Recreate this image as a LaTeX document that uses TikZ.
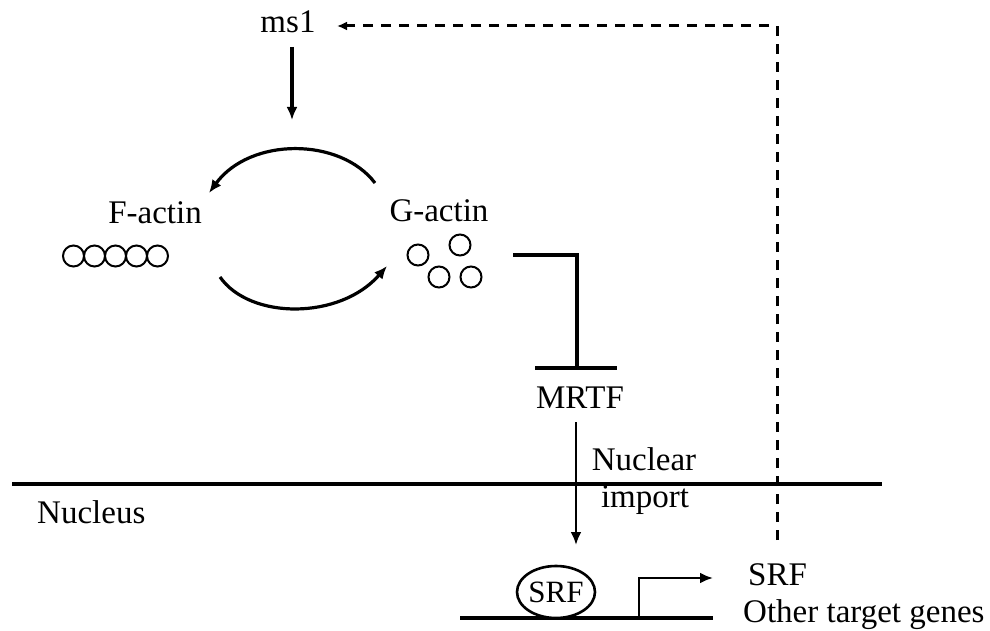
\documentclass[tikz,border=0pt]{standalone}
\usepackage{fontspec}
\setmainfont{Liberation Serif}
\usetikzlibrary{arrows.meta,shapes.geometric}
\begin{document}
\begin{tikzpicture}[x=1pt,y=-1pt,
  lbl/.style={font=\fontsize{33}{40}\selectfont, inner sep=0pt, anchor=base},
  lblw/.style={font=\fontsize{33}{40}\selectfont, inner sep=0pt, anchor=base west},
  conn/.style={line width=3.2pt},
  arr/.style={conn, -{Latex[length=13pt,width=11pt]}},
  bead/.style={circle, draw, line width=2pt, minimum size=21pt, inner sep=0pt},
  dashconn/.style={line width=3pt, dash pattern=on 10pt off 8pt, -{Latex[length=10pt,width=9pt]}}]
\useasboundingbox (0,0) rectangle (990,631);

% labels
\node[lbl] (ms1) at (288,33) {ms1};
\node[lbl] (factin) at (155,223) {F-actin};
\node[lbl] (gactin) at (439,222) {G-actin};
\node[lbl] (mrtf) at (580,408) {MRTF};
\node[lbl] (nuclear) at (644,470) {Nuclear};
\node[lbl] (import) at (645,507) {import};
\node[lblw] (nucleus) at (37,523) {Nucleus};
\node[lblw] (srfgene) at (748,585) {SRF};
\node[lblw] (other) at (743,622) {Other target genes};

% F-actin beads
\foreach \i/\x in {1/73.5,2/94.5,3/115.5,4/136.5,5/157.5}
  \node[bead] (f\i) at (\x,256) {};
% G-actin monomers
\node[bead] (g1) at (418,255) {};
\node[bead] (g2) at (460,245) {};
\node[bead] (g3) at (439,277) {};
\node[bead] (g4) at (471,277) {};

% ms1 -> cycle
\coordinate (ms1bot) at (292,47);
\coordinate (cycletop) at (292,120);
\draw[arr] (ms1bot) -- (cycletop);

% depolymerisation / polymerisation arcs
\coordinate (ga) at (375,183);
\coordinate (fa) at (209,193);
\draw[arr] (ga) .. controls (340,137) and (250,137) .. (fa);
\coordinate (fb) at (220,277);
\coordinate (gb) at (387,266);
\draw[arr] (fb) .. controls (250,320) and (340,320) .. (gb);

% G-actin inhibits MRTF
\coordinate (inhstart) at (513,255);
\coordinate (inhend) at (577,368);
\coordinate (barl) at (535,368);
\coordinate (barr) at (617,368);
\draw[conn] (inhstart) -| (inhend);
\draw[conn] (barl) -- (barr);

% nuclear membrane
\coordinate (meml) at (12,484);
\coordinate (memr) at (882,484);
\draw[line width=3.4pt] (meml) -- (memr);

% MRTF nuclear import
\coordinate (mrtfbot) at (576,422);
\coordinate (srftop) at (576,545);
\draw[line width=2.4pt, -{Latex[length=13pt,width=11pt]}] (mrtfbot) -- (srftop);

% SRF on DNA
\coordinate (dnal) at (460,618);
\coordinate (dnar) at (713,618);
\draw[conn] (dnal) -- (dnar);
\node[ellipse, draw, line width=2.6pt, fill=white, minimum width=70pt, minimum height=52pt, inner sep=0pt,
      font=\fontsize{31}{36}\selectfont] (srf) at (556,592) {SRF};
\coordinate (tss) at (639,618);
\coordinate (tssend) at (713,578);
\draw[line width=2.6pt, -{Latex[length=13pt,width=11pt]}] (tss) |- (tssend);

% feedback: SRF -> ms1
\coordinate (fbstart) at (777,540);
\coordinate (fbcorner) at (777,26);
\coordinate (ms1right) at (337,26);
\draw[dashconn] (fbstart) -- (fbcorner) -- (ms1right);
\end{tikzpicture}
\end{document}
